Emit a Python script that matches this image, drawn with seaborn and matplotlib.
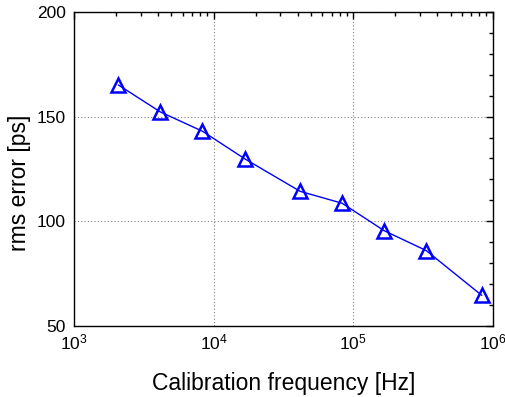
import matplotlib
matplotlib.use("Agg")
import matplotlib.pyplot as plt
import seaborn as sns
import pandas as pd
from matplotlib.ticker import LogLocator, MultipleLocator, NullFormatter

freq_hz = [2083, 4167, 8333, 16667, 41667, 83333, 166667, 333333, 833333]
rms_error_ps = [165.1, 152.2, 143.0, 129.9, 114.3, 108.6, 95.5, 86.0, 64.6]

sns.set_theme(style="white")
plt.rcParams['font.family'] = ['Liberation Sans', 'DejaVu Sans']
plt.rcParams['mathtext.fontset'] = 'custom'
plt.rcParams['mathtext.rm'] = 'Liberation Sans'
plt.rcParams['mathtext.it'] = 'Liberation Sans'

df = pd.DataFrame({"freq": freq_hz, "rms": rms_error_ps})

fig = plt.figure(figsize=(5.06, 3.97), dpi=100)
ax = fig.add_axes([0.146, 0.179, 0.828, 0.791])

sns.lineplot(data=df, x="freq", y="rms", ax=ax, color="blue", lw=1.0,
             marker="^", markersize=10, markerfacecolor="none",
             markeredgecolor="blue", markeredgewidth=1.8)

ax.set_xscale("log")
ax.set_xlim(1e3, 1e6)
ax.set_ylim(50, 200)
ax.yaxis.set_major_locator(MultipleLocator(50))
ax.yaxis.set_minor_locator(MultipleLocator(10))
ax.xaxis.set_major_locator(LogLocator(base=10, numticks=10))
ax.xaxis.set_minor_locator(LogLocator(base=10, subs=range(2, 10), numticks=20))
ax.xaxis.set_minor_formatter(NullFormatter())

for s in ax.spines.values():
    s.set_color("black")
    s.set_linewidth(1.0)

ax.tick_params(which="both", direction="in", top=True, right=True, colors="black",
               labelsize=12.5, labelcolor="black")
ax.tick_params(which="major", length=5, width=1)
ax.tick_params(which="minor", length=3, width=1)
ax.tick_params(axis="x", which="major", pad=5)
ax.tick_params(axis="y", which="major", pad=6)

ax.grid(True, which="major", linestyle=(0, (1, 2)), color="#808080", linewidth=0.8)

ax.set_xlabel("Calibration frequency [Hz]", fontsize=16.5, color="black", labelpad=14)
ax.set_ylabel("rms error [ps]", fontsize=16.5, color="black", labelpad=4)
ax.yaxis.label.set_y(0.455)

fig.savefig("out.png", dpi=100, facecolor="white")
